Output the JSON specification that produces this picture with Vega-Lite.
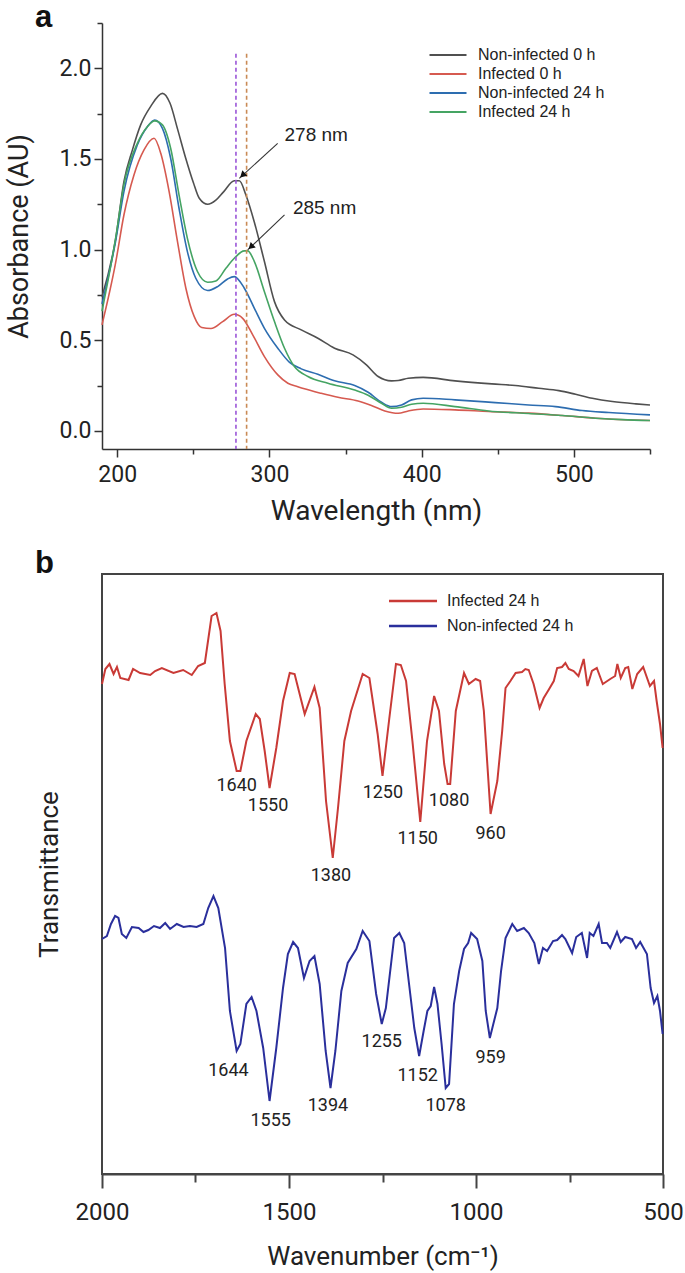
{
  "$schema": "https://vega.github.io/schema/vega-lite/v6.json",
  "background": "white",
  "padding": {"left": 5, "top": 2, "right": 0, "bottom": 5},
  "bounds": "flush",
  "spacing": 125,
  "config": {
    "view": {"stroke": null},
    "font": "Roboto",
    "axis": {"grid": false, "domainColor": "#333", "domainWidth": 1.5, "tickColor": "#333", "tickWidth": 1.5, "labelColor": "#222", "titleColor": "#222", "titleFontWeight": "normal", "labelFont": "Roboto", "titleFont": "Roboto", "labelOverlap": false, "labelFlush": false}
  },
  "resolve": {"scale": {"color": "independent"}, "legend": {"color": "independent"}},
  "datasets": {
    "uv": [
      {"series": "Non-infected 0 h", "wl": 190, "abs": 0.74},
      {"series": "Non-infected 0 h", "wl": 199, "abs": 1.06},
      {"series": "Non-infected 0 h", "wl": 204.4, "abs": 1.375},
      {"series": "Non-infected 0 h", "wl": 210, "abs": 1.55},
      {"series": "Non-infected 0 h", "wl": 215.4, "abs": 1.688},
      {"series": "Non-infected 0 h", "wl": 222, "abs": 1.79},
      {"series": "Non-infected 0 h", "wl": 229.7, "abs": 1.862},
      {"series": "Non-infected 0 h", "wl": 234.7, "abs": 1.807},
      {"series": "Non-infected 0 h", "wl": 239.6, "abs": 1.666},
      {"series": "Non-infected 0 h", "wl": 245, "abs": 1.504},
      {"series": "Non-infected 0 h", "wl": 250, "abs": 1.37},
      {"series": "Non-infected 0 h", "wl": 253.9, "abs": 1.283},
      {"series": "Non-infected 0 h", "wl": 259.4, "abs": 1.25},
      {"series": "Non-infected 0 h", "wl": 264.8, "abs": 1.273},
      {"series": "Non-infected 0 h", "wl": 270, "abs": 1.32},
      {"series": "Non-infected 0 h", "wl": 276.9, "abs": 1.38},
      {"series": "Non-infected 0 h", "wl": 280.2, "abs": 1.38},
      {"series": "Non-infected 0 h", "wl": 284.6, "abs": 1.3},
      {"series": "Non-infected 0 h", "wl": 290, "abs": 1.154},
      {"series": "Non-infected 0 h", "wl": 296.7, "abs": 0.934},
      {"series": "Non-infected 0 h", "wl": 303.3, "abs": 0.713},
      {"series": "Non-infected 0 h", "wl": 309.9, "abs": 0.612},
      {"series": "Non-infected 0 h", "wl": 320.9, "abs": 0.557},
      {"series": "Non-infected 0 h", "wl": 331.8, "abs": 0.511},
      {"series": "Non-infected 0 h", "wl": 342.8, "abs": 0.456},
      {"series": "Non-infected 0 h", "wl": 354.9, "abs": 0.419},
      {"series": "Non-infected 0 h", "wl": 363.7, "abs": 0.364},
      {"series": "Non-infected 0 h", "wl": 371.4, "abs": 0.3},
      {"series": "Non-infected 0 h", "wl": 380.2, "abs": 0.276},
      {"series": "Non-infected 0 h", "wl": 384.6, "abs": 0.278},
      {"series": "Non-infected 0 h", "wl": 391.2, "abs": 0.29},
      {"series": "Non-infected 0 h", "wl": 401, "abs": 0.295},
      {"series": "Non-infected 0 h", "wl": 421.9, "abs": 0.276},
      {"series": "Non-infected 0 h", "wl": 446.1, "abs": 0.259},
      {"series": "Non-infected 0 h", "wl": 461.5, "abs": 0.25},
      {"series": "Non-infected 0 h", "wl": 476.9, "abs": 0.235},
      {"series": "Non-infected 0 h", "wl": 490.1, "abs": 0.222},
      {"series": "Non-infected 0 h", "wl": 501.1, "abs": 0.202},
      {"series": "Non-infected 0 h", "wl": 512.1, "abs": 0.18},
      {"series": "Non-infected 0 h", "wl": 525.3, "abs": 0.162},
      {"series": "Non-infected 0 h", "wl": 540.7, "abs": 0.149},
      {"series": "Non-infected 0 h", "wl": 550, "abs": 0.143},

      {"series": "Infected 0 h", "wl": 190, "abs": 0.585},
      {"series": "Infected 0 h", "wl": 198.9, "abs": 0.925},
      {"series": "Infected 0 h", "wl": 204.4, "abs": 1.191},
      {"series": "Infected 0 h", "wl": 211, "abs": 1.412},
      {"series": "Infected 0 h", "wl": 217.6, "abs": 1.55},
      {"series": "Infected 0 h", "wl": 224.2, "abs": 1.614},
      {"series": "Infected 0 h", "wl": 228.6, "abs": 1.531},
      {"series": "Infected 0 h", "wl": 234.1, "abs": 1.32},
      {"series": "Infected 0 h", "wl": 239.6, "abs": 1.044},
      {"series": "Infected 0 h", "wl": 245.1, "abs": 0.787},
      {"series": "Infected 0 h", "wl": 250.6, "abs": 0.63},
      {"series": "Infected 0 h", "wl": 255.5, "abs": 0.57},
      {"series": "Infected 0 h", "wl": 261.6, "abs": 0.565},
      {"series": "Infected 0 h", "wl": 269.3, "abs": 0.603},
      {"series": "Infected 0 h", "wl": 276.9, "abs": 0.643},
      {"series": "Infected 0 h", "wl": 282.4, "abs": 0.621},
      {"series": "Infected 0 h", "wl": 289, "abs": 0.53},
      {"series": "Infected 0 h", "wl": 296.7, "abs": 0.41},
      {"series": "Infected 0 h", "wl": 305.5, "abs": 0.309},
      {"series": "Infected 0 h", "wl": 312.1, "abs": 0.263},
      {"series": "Infected 0 h", "wl": 318.6, "abs": 0.244},
      {"series": "Infected 0 h", "wl": 323, "abs": 0.232},
      {"series": "Infected 0 h", "wl": 334, "abs": 0.207},
      {"series": "Infected 0 h", "wl": 345, "abs": 0.185},
      {"series": "Infected 0 h", "wl": 358.2, "abs": 0.165},
      {"series": "Infected 0 h", "wl": 367, "abs": 0.14},
      {"series": "Infected 0 h", "wl": 375.8, "abs": 0.11},
      {"series": "Infected 0 h", "wl": 384.6, "abs": 0.097},
      {"series": "Infected 0 h", "wl": 391.2, "abs": 0.11},
      {"series": "Infected 0 h", "wl": 401, "abs": 0.121},
      {"series": "Infected 0 h", "wl": 421.9, "abs": 0.116},
      {"series": "Infected 0 h", "wl": 443.9, "abs": 0.107},
      {"series": "Infected 0 h", "wl": 470.3, "abs": 0.098},
      {"series": "Infected 0 h", "wl": 492.3, "abs": 0.085},
      {"series": "Infected 0 h", "wl": 514.3, "abs": 0.07},
      {"series": "Infected 0 h", "wl": 550, "abs": 0.057},

      {"series": "Non-infected 24 h", "wl": 190, "abs": 0.7},
      {"series": "Non-infected 24 h", "wl": 198.9, "abs": 1.044},
      {"series": "Non-infected 24 h", "wl": 204.4, "abs": 1.32},
      {"series": "Non-infected 24 h", "wl": 213.2, "abs": 1.577},
      {"series": "Non-infected 24 h", "wl": 219.8, "abs": 1.678},
      {"series": "Non-infected 24 h", "wl": 224.6, "abs": 1.715},
      {"series": "Non-infected 24 h", "wl": 229.7, "abs": 1.669},
      {"series": "Non-infected 24 h", "wl": 235.1, "abs": 1.504},
      {"series": "Non-infected 24 h", "wl": 240.6, "abs": 1.228},
      {"series": "Non-infected 24 h", "wl": 246.1, "abs": 0.989},
      {"series": "Non-infected 24 h", "wl": 251.6, "abs": 0.842},
      {"series": "Non-infected 24 h", "wl": 259.4, "abs": 0.774},
      {"series": "Non-infected 24 h", "wl": 266, "abs": 0.796},
      {"series": "Non-infected 24 h", "wl": 272.5, "abs": 0.838},
      {"series": "Non-infected 24 h", "wl": 276.9, "abs": 0.851},
      {"series": "Non-infected 24 h", "wl": 283.5, "abs": 0.787},
      {"series": "Non-infected 24 h", "wl": 290.1, "abs": 0.676},
      {"series": "Non-infected 24 h", "wl": 296.7, "abs": 0.566},
      {"series": "Non-infected 24 h", "wl": 305.5, "abs": 0.456},
      {"series": "Non-infected 24 h", "wl": 313.2, "abs": 0.378},
      {"series": "Non-infected 24 h", "wl": 320.9, "abs": 0.342},
      {"series": "Non-infected 24 h", "wl": 331.8, "abs": 0.312},
      {"series": "Non-infected 24 h", "wl": 342.8, "abs": 0.276},
      {"series": "Non-infected 24 h", "wl": 356, "abs": 0.25},
      {"series": "Non-infected 24 h", "wl": 364.8, "abs": 0.213},
      {"series": "Non-infected 24 h", "wl": 373.6, "abs": 0.158},
      {"series": "Non-infected 24 h", "wl": 380.2, "abs": 0.134},
      {"series": "Non-infected 24 h", "wl": 386.8, "abs": 0.143},
      {"series": "Non-infected 24 h", "wl": 393.4, "abs": 0.171},
      {"series": "Non-infected 24 h", "wl": 401, "abs": 0.18},
      {"series": "Non-infected 24 h", "wl": 421.9, "abs": 0.171},
      {"series": "Non-infected 24 h", "wl": 448.3, "abs": 0.156},
      {"series": "Non-infected 24 h", "wl": 470.3, "abs": 0.143},
      {"series": "Non-infected 24 h", "wl": 487.9, "abs": 0.134},
      {"series": "Non-infected 24 h", "wl": 505.4, "abs": 0.112},
      {"series": "Non-infected 24 h", "wl": 523, "abs": 0.101},
      {"series": "Non-infected 24 h", "wl": 550, "abs": 0.088},

      {"series": "Infected 24 h", "wl": 190, "abs": 0.66},
      {"series": "Infected 24 h", "wl": 198.9, "abs": 1.06},
      {"series": "Infected 24 h", "wl": 204.4, "abs": 1.357},
      {"series": "Infected 24 h", "wl": 213.2, "abs": 1.586},
      {"series": "Infected 24 h", "wl": 219.8, "abs": 1.678},
      {"series": "Infected 24 h", "wl": 224.6, "abs": 1.71},
      {"series": "Infected 24 h", "wl": 229.7, "abs": 1.688},
      {"series": "Infected 24 h", "wl": 235.1, "abs": 1.559},
      {"series": "Infected 24 h", "wl": 240.6, "abs": 1.302},
      {"series": "Infected 24 h", "wl": 246.1, "abs": 1.062},
      {"series": "Infected 24 h", "wl": 252.7, "abs": 0.879},
      {"series": "Infected 24 h", "wl": 259.4, "abs": 0.82},
      {"series": "Infected 24 h", "wl": 264.8, "abs": 0.827},
      {"series": "Infected 24 h", "wl": 271.4, "abs": 0.897},
      {"series": "Infected 24 h", "wl": 276.9, "abs": 0.952},
      {"series": "Infected 24 h", "wl": 283.5, "abs": 0.993},
      {"series": "Infected 24 h", "wl": 285.7, "abs": 0.993},
      {"series": "Infected 24 h", "wl": 290.1, "abs": 0.934},
      {"series": "Infected 24 h", "wl": 296.7, "abs": 0.768},
      {"series": "Infected 24 h", "wl": 303.3, "abs": 0.603},
      {"series": "Infected 24 h", "wl": 309.9, "abs": 0.456},
      {"series": "Infected 24 h", "wl": 316.4, "abs": 0.355},
      {"series": "Infected 24 h", "wl": 325.3, "abs": 0.3},
      {"series": "Infected 24 h", "wl": 338.4, "abs": 0.263},
      {"series": "Infected 24 h", "wl": 356, "abs": 0.225},
      {"series": "Infected 24 h", "wl": 364.8, "abs": 0.197},
      {"series": "Infected 24 h", "wl": 373.6, "abs": 0.152},
      {"series": "Infected 24 h", "wl": 380.2, "abs": 0.125},
      {"series": "Infected 24 h", "wl": 386.8, "abs": 0.13},
      {"series": "Infected 24 h", "wl": 393.4, "abs": 0.147},
      {"series": "Infected 24 h", "wl": 401, "abs": 0.152},
      {"series": "Infected 24 h", "wl": 421.9, "abs": 0.134},
      {"series": "Infected 24 h", "wl": 443.9, "abs": 0.11},
      {"series": "Infected 24 h", "wl": 470.3, "abs": 0.096},
      {"series": "Infected 24 h", "wl": 492.3, "abs": 0.085},
      {"series": "Infected 24 h", "wl": 514.3, "abs": 0.07},
      {"series": "Infected 24 h", "wl": 531.9, "abs": 0.062},
      {"series": "Infected 24 h", "wl": 550, "abs": 0.057}
    ],
    "peaks": [
      {"wl": 278, "top": 2.08, "bottom": -0.1},
      {"wl": 285, "top": 2.08, "bottom": -0.1}
    ],
    "notes": [
      {"label": "278 nm", "tx": 309.9, "ty": 1.633, "x0": 305.4, "y0": 1.586, "x1": 280.2, "y1": 1.393, "hx": 282.3, "hy": 1.41},
      {"label": "285 nm", "tx": 315.4, "ty": 1.228, "x0": 309.9, "y0": 1.191, "x1": 285.7, "y1": 0.998, "hx": 287.8, "hy": 1.015}
    ],
    "ftir": [
      {"series": "Infected 24 h", "wn": 2000, "t": 490},
      {"series": "Infected 24 h", "wn": 1991, "t": 505},
      {"series": "Infected 24 h", "wn": 1980, "t": 510},
      {"series": "Infected 24 h", "wn": 1969, "t": 500},
      {"series": "Infected 24 h", "wn": 1960, "t": 507},
      {"series": "Infected 24 h", "wn": 1951, "t": 496},
      {"series": "Infected 24 h", "wn": 1929, "t": 494},
      {"series": "Infected 24 h", "wn": 1917, "t": 505},
      {"series": "Infected 24 h", "wn": 1898, "t": 501},
      {"series": "Infected 24 h", "wn": 1871, "t": 499},
      {"series": "Infected 24 h", "wn": 1858, "t": 503},
      {"series": "Infected 24 h", "wn": 1840, "t": 506},
      {"series": "Infected 24 h", "wn": 1809, "t": 501},
      {"series": "Infected 24 h", "wn": 1783, "t": 504},
      {"series": "Infected 24 h", "wn": 1760, "t": 499},
      {"series": "Infected 24 h", "wn": 1743, "t": 508},
      {"series": "Infected 24 h", "wn": 1725, "t": 511},
      {"series": "Infected 24 h", "wn": 1707, "t": 558},
      {"series": "Infected 24 h", "wn": 1694, "t": 561},
      {"series": "Infected 24 h", "wn": 1683, "t": 543},
      {"series": "Infected 24 h", "wn": 1672, "t": 490},
      {"series": "Infected 24 h", "wn": 1658, "t": 433},
      {"series": "Infected 24 h", "wn": 1640, "t": 403},
      {"series": "Infected 24 h", "wn": 1630, "t": 403},
      {"series": "Infected 24 h", "wn": 1614, "t": 433},
      {"series": "Infected 24 h", "wn": 1589, "t": 460},
      {"series": "Infected 24 h", "wn": 1578, "t": 455},
      {"series": "Infected 24 h", "wn": 1565, "t": 423},
      {"series": "Infected 24 h", "wn": 1552, "t": 386},
      {"series": "Infected 24 h", "wn": 1534, "t": 426},
      {"series": "Infected 24 h", "wn": 1516, "t": 473},
      {"series": "Infected 24 h", "wn": 1498, "t": 501},
      {"series": "Infected 24 h", "wn": 1485, "t": 500},
      {"series": "Infected 24 h", "wn": 1458, "t": 460},
      {"series": "Infected 24 h", "wn": 1432, "t": 487},
      {"series": "Infected 24 h", "wn": 1418, "t": 466},
      {"series": "Infected 24 h", "wn": 1401, "t": 373},
      {"series": "Infected 24 h", "wn": 1383, "t": 316},
      {"series": "Infected 24 h", "wn": 1369, "t": 366},
      {"series": "Infected 24 h", "wn": 1352, "t": 433},
      {"series": "Infected 24 h", "wn": 1334, "t": 463},
      {"series": "Infected 24 h", "wn": 1303, "t": 500},
      {"series": "Infected 24 h", "wn": 1285, "t": 496},
      {"series": "Infected 24 h", "wn": 1263, "t": 440},
      {"series": "Infected 24 h", "wn": 1250, "t": 398},
      {"series": "Infected 24 h", "wn": 1232, "t": 455},
      {"series": "Infected 24 h", "wn": 1214, "t": 510},
      {"series": "Infected 24 h", "wn": 1201, "t": 509},
      {"series": "Infected 24 h", "wn": 1187, "t": 493},
      {"series": "Infected 24 h", "wn": 1170, "t": 433},
      {"series": "Infected 24 h", "wn": 1149, "t": 352},
      {"series": "Infected 24 h", "wn": 1131, "t": 433},
      {"series": "Infected 24 h", "wn": 1112, "t": 478},
      {"series": "Infected 24 h", "wn": 1099, "t": 463},
      {"series": "Infected 24 h", "wn": 1085, "t": 410},
      {"series": "Infected 24 h", "wn": 1076, "t": 390},
      {"series": "Infected 24 h", "wn": 1069, "t": 390},
      {"series": "Infected 24 h", "wn": 1054, "t": 463},
      {"series": "Infected 24 h", "wn": 1032, "t": 501},
      {"series": "Infected 24 h", "wn": 1019, "t": 490},
      {"series": "Infected 24 h", "wn": 1001, "t": 495},
      {"series": "Infected 24 h", "wn": 989, "t": 493},
      {"series": "Infected 24 h", "wn": 979, "t": 463},
      {"series": "Infected 24 h", "wn": 961, "t": 360},
      {"series": "Infected 24 h", "wn": 943, "t": 393},
      {"series": "Infected 24 h", "wn": 930, "t": 443},
      {"series": "Infected 24 h", "wn": 921, "t": 486},
      {"series": "Infected 24 h", "wn": 908, "t": 493},
      {"series": "Infected 24 h", "wn": 894, "t": 501},
      {"series": "Infected 24 h", "wn": 877, "t": 502},
      {"series": "Infected 24 h", "wn": 868, "t": 505},
      {"series": "Infected 24 h", "wn": 859, "t": 504},
      {"series": "Infected 24 h", "wn": 846, "t": 490},
      {"series": "Infected 24 h", "wn": 830, "t": 466},
      {"series": "Infected 24 h", "wn": 819, "t": 476},
      {"series": "Infected 24 h", "wn": 806, "t": 484},
      {"series": "Infected 24 h", "wn": 792, "t": 493},
      {"series": "Infected 24 h", "wn": 783, "t": 506},
      {"series": "Infected 24 h", "wn": 770, "t": 507},
      {"series": "Infected 24 h", "wn": 761, "t": 511},
      {"series": "Infected 24 h", "wn": 752, "t": 505},
      {"series": "Infected 24 h", "wn": 739, "t": 503},
      {"series": "Infected 24 h", "wn": 726, "t": 498},
      {"series": "Infected 24 h", "wn": 712, "t": 515},
      {"series": "Infected 24 h", "wn": 702, "t": 488},
      {"series": "Infected 24 h", "wn": 690, "t": 503},
      {"series": "Infected 24 h", "wn": 677, "t": 506},
      {"series": "Infected 24 h", "wn": 661, "t": 490},
      {"series": "Infected 24 h", "wn": 641, "t": 495},
      {"series": "Infected 24 h", "wn": 628, "t": 498},
      {"series": "Infected 24 h", "wn": 622, "t": 510},
      {"series": "Infected 24 h", "wn": 613, "t": 496},
      {"series": "Infected 24 h", "wn": 601, "t": 506},
      {"series": "Infected 24 h", "wn": 593, "t": 507},
      {"series": "Infected 24 h", "wn": 582, "t": 485},
      {"series": "Infected 24 h", "wn": 569, "t": 500},
      {"series": "Infected 24 h", "wn": 553, "t": 507},
      {"series": "Infected 24 h", "wn": 535, "t": 488},
      {"series": "Infected 24 h", "wn": 524, "t": 493},
      {"series": "Infected 24 h", "wn": 517, "t": 473},
      {"series": "Infected 24 h", "wn": 508, "t": 450},
      {"series": "Infected 24 h", "wn": 501, "t": 426},

      {"series": "Non-infected 24 h", "wn": 2000, "t": 235},
      {"series": "Non-infected 24 h", "wn": 1987, "t": 238},
      {"series": "Non-infected 24 h", "wn": 1976, "t": 250},
      {"series": "Non-infected 24 h", "wn": 1965, "t": 258},
      {"series": "Non-infected 24 h", "wn": 1956, "t": 256},
      {"series": "Non-infected 24 h", "wn": 1947, "t": 240},
      {"series": "Non-infected 24 h", "wn": 1935, "t": 236},
      {"series": "Non-infected 24 h", "wn": 1920, "t": 247},
      {"series": "Non-infected 24 h", "wn": 1902, "t": 246},
      {"series": "Non-infected 24 h", "wn": 1889, "t": 242},
      {"series": "Non-infected 24 h", "wn": 1876, "t": 244},
      {"series": "Non-infected 24 h", "wn": 1861, "t": 248},
      {"series": "Non-infected 24 h", "wn": 1845, "t": 246},
      {"series": "Non-infected 24 h", "wn": 1831, "t": 251},
      {"series": "Non-infected 24 h", "wn": 1818, "t": 245},
      {"series": "Non-infected 24 h", "wn": 1800, "t": 250},
      {"series": "Non-infected 24 h", "wn": 1782, "t": 247},
      {"series": "Non-infected 24 h", "wn": 1765, "t": 248},
      {"series": "Non-infected 24 h", "wn": 1747, "t": 247},
      {"series": "Non-infected 24 h", "wn": 1729, "t": 250},
      {"series": "Non-infected 24 h", "wn": 1716, "t": 266},
      {"series": "Non-infected 24 h", "wn": 1702, "t": 278},
      {"series": "Non-infected 24 h", "wn": 1689, "t": 266},
      {"series": "Non-infected 24 h", "wn": 1671, "t": 226},
      {"series": "Non-infected 24 h", "wn": 1658, "t": 163},
      {"series": "Non-infected 24 h", "wn": 1640, "t": 123},
      {"series": "Non-infected 24 h", "wn": 1630, "t": 130},
      {"series": "Non-infected 24 h", "wn": 1614, "t": 170},
      {"series": "Non-infected 24 h", "wn": 1600, "t": 177},
      {"series": "Non-infected 24 h", "wn": 1587, "t": 163},
      {"series": "Non-infected 24 h", "wn": 1569, "t": 126},
      {"series": "Non-infected 24 h", "wn": 1552, "t": 73},
      {"series": "Non-infected 24 h", "wn": 1534, "t": 126},
      {"series": "Non-infected 24 h", "wn": 1516, "t": 186},
      {"series": "Non-infected 24 h", "wn": 1503, "t": 220},
      {"series": "Non-infected 24 h", "wn": 1489, "t": 232},
      {"series": "Non-infected 24 h", "wn": 1476, "t": 226},
      {"series": "Non-infected 24 h", "wn": 1460, "t": 196},
      {"series": "Non-infected 24 h", "wn": 1445, "t": 213},
      {"series": "Non-infected 24 h", "wn": 1432, "t": 218},
      {"series": "Non-infected 24 h", "wn": 1418, "t": 190},
      {"series": "Non-infected 24 h", "wn": 1402, "t": 123},
      {"series": "Non-infected 24 h", "wn": 1389, "t": 86},
      {"series": "Non-infected 24 h", "wn": 1376, "t": 123},
      {"series": "Non-infected 24 h", "wn": 1360, "t": 183},
      {"series": "Non-infected 24 h", "wn": 1343, "t": 211},
      {"series": "Non-infected 24 h", "wn": 1320, "t": 225},
      {"series": "Non-infected 24 h", "wn": 1303, "t": 243},
      {"series": "Non-infected 24 h", "wn": 1285, "t": 233},
      {"series": "Non-infected 24 h", "wn": 1267, "t": 180},
      {"series": "Non-infected 24 h", "wn": 1252, "t": 150},
      {"series": "Non-infected 24 h", "wn": 1241, "t": 166},
      {"series": "Non-infected 24 h", "wn": 1219, "t": 236},
      {"series": "Non-infected 24 h", "wn": 1205, "t": 241},
      {"series": "Non-infected 24 h", "wn": 1192, "t": 231},
      {"series": "Non-infected 24 h", "wn": 1179, "t": 190},
      {"series": "Non-infected 24 h", "wn": 1165, "t": 146},
      {"series": "Non-infected 24 h", "wn": 1152, "t": 118},
      {"series": "Non-infected 24 h", "wn": 1140, "t": 143},
      {"series": "Non-infected 24 h", "wn": 1130, "t": 163},
      {"series": "Non-infected 24 h", "wn": 1121, "t": 168},
      {"series": "Non-infected 24 h", "wn": 1112, "t": 187},
      {"series": "Non-infected 24 h", "wn": 1103, "t": 170},
      {"series": "Non-infected 24 h", "wn": 1092, "t": 130},
      {"series": "Non-infected 24 h", "wn": 1081, "t": 86},
      {"series": "Non-infected 24 h", "wn": 1072, "t": 90},
      {"series": "Non-infected 24 h", "wn": 1059, "t": 170},
      {"series": "Non-infected 24 h", "wn": 1045, "t": 203},
      {"series": "Non-infected 24 h", "wn": 1032, "t": 225},
      {"series": "Non-infected 24 h", "wn": 1021, "t": 231},
      {"series": "Non-infected 24 h", "wn": 1013, "t": 241},
      {"series": "Non-infected 24 h", "wn": 997, "t": 235},
      {"series": "Non-infected 24 h", "wn": 983, "t": 213},
      {"series": "Non-infected 24 h", "wn": 974, "t": 163},
      {"series": "Non-infected 24 h", "wn": 963, "t": 136},
      {"series": "Non-infected 24 h", "wn": 943, "t": 166},
      {"series": "Non-infected 24 h", "wn": 933, "t": 203},
      {"series": "Non-infected 24 h", "wn": 921, "t": 236},
      {"series": "Non-infected 24 h", "wn": 903, "t": 250},
      {"series": "Non-infected 24 h", "wn": 890, "t": 243},
      {"series": "Non-infected 24 h", "wn": 872, "t": 246},
      {"series": "Non-infected 24 h", "wn": 859, "t": 241},
      {"series": "Non-infected 24 h", "wn": 844, "t": 231},
      {"series": "Non-infected 24 h", "wn": 832, "t": 210},
      {"series": "Non-infected 24 h", "wn": 821, "t": 226},
      {"series": "Non-infected 24 h", "wn": 810, "t": 223},
      {"series": "Non-infected 24 h", "wn": 794, "t": 233},
      {"series": "Non-infected 24 h", "wn": 783, "t": 234},
      {"series": "Non-infected 24 h", "wn": 770, "t": 239},
      {"series": "Non-infected 24 h", "wn": 761, "t": 235},
      {"series": "Non-infected 24 h", "wn": 743, "t": 221},
      {"series": "Non-infected 24 h", "wn": 732, "t": 237},
      {"series": "Non-infected 24 h", "wn": 717, "t": 241},
      {"series": "Non-infected 24 h", "wn": 703, "t": 216},
      {"series": "Non-infected 24 h", "wn": 696, "t": 241},
      {"series": "Non-infected 24 h", "wn": 686, "t": 238},
      {"series": "Non-infected 24 h", "wn": 672, "t": 250},
      {"series": "Non-infected 24 h", "wn": 663, "t": 231},
      {"series": "Non-infected 24 h", "wn": 650, "t": 231},
      {"series": "Non-infected 24 h", "wn": 641, "t": 226},
      {"series": "Non-infected 24 h", "wn": 623, "t": 242},
      {"series": "Non-infected 24 h", "wn": 613, "t": 232},
      {"series": "Non-infected 24 h", "wn": 601, "t": 237},
      {"series": "Non-infected 24 h", "wn": 583, "t": 235},
      {"series": "Non-infected 24 h", "wn": 572, "t": 226},
      {"series": "Non-infected 24 h", "wn": 561, "t": 232},
      {"series": "Non-infected 24 h", "wn": 543, "t": 220},
      {"series": "Non-infected 24 h", "wn": 533, "t": 186},
      {"series": "Non-infected 24 h", "wn": 524, "t": 171},
      {"series": "Non-infected 24 h", "wn": 515, "t": 178},
      {"series": "Non-infected 24 h", "wn": 508, "t": 163},
      {"series": "Non-infected 24 h", "wn": 501, "t": 140}
    ],
    "bands": [
      {"label": "1640", "wn": 1640, "t": 388},
      {"label": "1550", "wn": 1556, "t": 368},
      {"label": "1380", "wn": 1388, "t": 298},
      {"label": "1250", "wn": 1249, "t": 381},
      {"label": "1150", "wn": 1156, "t": 335},
      {"label": "1080", "wn": 1072, "t": 373},
      {"label": "960", "wn": 961, "t": 340},
      {"label": "1644", "wn": 1662, "t": 103},
      {"label": "1555", "wn": 1549, "t": 53},
      {"label": "1394", "wn": 1396, "t": 68},
      {"label": "1255", "wn": 1252, "t": 132},
      {"label": "1152", "wn": 1156, "t": 98},
      {"label": "1078", "wn": 1081, "t": 68},
      {"label": "959", "wn": 961, "t": 116}
    ]
  },
  "vconcat": [
    {
      "width": 548,
      "height": 426,
      "title": {"text": "a", "anchor": "start", "frame": "group", "dx": -67, "offset": -22, "fontSize": 31, "fontWeight": "bold", "font": "Liberation Sans", "color": "#111"},
      "layer": [
        {
          "data": {"name": "uv"},
          "mark": {"type": "line", "strokeWidth": 1.6, "interpolate": "monotone"},
          "encoding": {
            "x": {
              "field": "wl", "type": "quantitative",
              "scale": {"domain": [190, 550], "nice": false, "zero": false},
              "axis": {
                "title": "Wavelength (nm)",
                "values": [200, 250, 300, 350, 400, 450, 500, 550],
                "labelExpr": "datum.value % 100 === 0 ? datum.label : ''",
                "tickSize": {"condition": {"test": "datum.value % 100 === 0", "value": 8}, "value": 5},
                "labelFontSize": 23, "labelPadding": 6,
                "titleFontSize": 28, "titlePadding": 11
              }
            },
            "y": {
              "field": "abs", "type": "quantitative",
              "scale": {"domain": [-0.1, 2.25], "nice": false, "zero": false},
              "axis": {
                "title": "Absorbance (AU)",
                "values": [0, 0.25, 0.5, 0.75, 1, 1.25, 1.5, 1.75, 2, 2.25],
                "labelExpr": "datum.value % 0.5 === 0 ? format(datum.value, '.1f') : ''",
                "tickSize": {"condition": {"test": "datum.value % 0.5 === 0", "value": 8}, "value": 5},
                "labelFontSize": 23, "labelPadding": 3,
                "titleFontSize": 27, "titlePadding": 23,
                "minExtent": 46, "maxExtent": 46
              }
            },
            "color": {
              "field": "series", "type": "nominal",
              "scale": {"domain": ["Non-infected 0 h", "Infected 0 h", "Non-infected 24 h", "Infected 24 h"], "range": ["#505050", "#d65a50", "#2d6db0", "#45a463"]},
              "legend": {
                "title": null, "orient": "none", "legendX": 338, "legendY": 24,
                "symbolType": "M-3.7,0H3.7", "symbolSize": 100, "symbolStrokeWidth": 2,
                "labelFontSize": 16, "labelFont": "Liberation Sans", "labelColor": "#222",
                "labelOffset": 22, "rowPadding": 3, "padding": 0
              }
            }
          }
        },
        {
          "data": {"name": "peaks"},
          "transform": [{"filter": "datum.wl == 278"}],
          "mark": {"type": "rule", "color": "#9b55d8", "strokeWidth": 1.6, "strokeDash": [4, 3]},
          "encoding": {
            "x": {"field": "wl", "type": "quantitative"},
            "y": {"field": "top", "type": "quantitative"},
            "y2": {"field": "bottom"}
          }
        },
        {
          "data": {"name": "peaks"},
          "transform": [{"filter": "datum.wl == 285"}],
          "mark": {"type": "rule", "color": "#c98a55", "strokeWidth": 1.6, "strokeDash": [4, 3]},
          "encoding": {
            "x": {"field": "wl", "type": "quantitative"},
            "y": {"field": "top", "type": "quantitative"},
            "y2": {"field": "bottom"}
          }
        },
        {
          "data": {"name": "notes"},
          "mark": {"type": "rule", "color": "#333", "strokeWidth": 1.1},
          "encoding": {
            "x": {"field": "x0", "type": "quantitative"},
            "y": {"field": "y0", "type": "quantitative"},
            "x2": {"field": "x1"},
            "y2": {"field": "y1"}
          }
        },
        {
          "data": {"name": "notes"},
          "mark": {"type": "point", "shape": "triangle-up", "filled": true, "size": 55, "angle": 227, "color": "#111", "opacity": 1},
          "encoding": {
            "x": {"field": "hx", "type": "quantitative"},
            "y": {"field": "hy", "type": "quantitative"}
          }
        },
        {
          "data": {"name": "notes"},
          "mark": {"type": "text", "align": "left", "baseline": "middle", "fontSize": 19, "font": "Liberation Sans", "color": "#222"},
          "encoding": {
            "x": {"field": "tx", "type": "quantitative"},
            "y": {"field": "ty", "type": "quantitative"},
            "text": {"field": "label"}
          }
        }
      ]
    },
    {
      "width": 561,
      "height": 600,
      "view": {"stroke": "#444", "strokeWidth": 2},
      "title": {"text": "b", "anchor": "start", "frame": "group", "dx": -67, "offset": -6, "fontSize": 31, "fontWeight": "bold", "font": "Liberation Sans", "color": "#111"},
      "layer": [
        {
          "data": {"name": "ftir"},
          "mark": {"type": "line", "strokeWidth": 2},
          "encoding": {
            "x": {
              "field": "wn", "type": "quantitative",
              "scale": {"domain": [2000, 500], "nice": false, "zero": false},
              "axis": {
                "title": "Wavenumber (cm⁻¹)",
                "values": [2000, 1750, 1500, 1250, 1000, 750, 500],
                "format": "d",
                "labelExpr": "datum.value % 500 === 0 ? datum.label : ''",
                "tickSize": {"condition": {"test": "datum.value % 500 === 0", "value": 14}, "value": 8},
                "domainWidth": 2, "domainColor": "#444", "tickWidth": 2, "tickColor": "#444",
                "labelFontSize": 24, "labelPadding": 12,
                "titleFontSize": 26, "titlePadding": 19
              }
            },
            "y": {
              "field": "t", "type": "quantitative",
              "scale": {"domain": [0, 600], "nice": false, "zero": false},
              "axis": {"title": "Transmittance", "labels": false, "ticks": false, "domain": false, "titleFontSize": 26, "titlePadding": 40, "minExtent": 0, "maxExtent": 0}
            },
            "color": {
              "field": "series", "type": "nominal",
              "scale": {"domain": ["Infected 24 h", "Non-infected 24 h"], "range": ["#c93a36", "#2a2f9c"]},
              "legend": {
                "title": null, "orient": "none", "legendX": 303, "legendY": 19,
                "symbolType": "M-4.8,0H4.8", "symbolSize": 100, "symbolStrokeWidth": 2.5,
                "labelFontSize": 16, "labelFont": "Liberation Sans", "labelColor": "#222",
                "labelOffset": 26, "rowPadding": 9, "padding": 0
              }
            }
          }
        },
        {
          "data": {"name": "bands"},
          "mark": {"type": "text", "align": "center", "baseline": "middle", "fontSize": 18, "font": "Roboto", "color": "#222"},
          "encoding": {
            "x": {"field": "wn", "type": "quantitative"},
            "y": {"field": "t", "type": "quantitative"},
            "text": {"field": "label"}
          }
        }
      ]
    }
  ]
}
